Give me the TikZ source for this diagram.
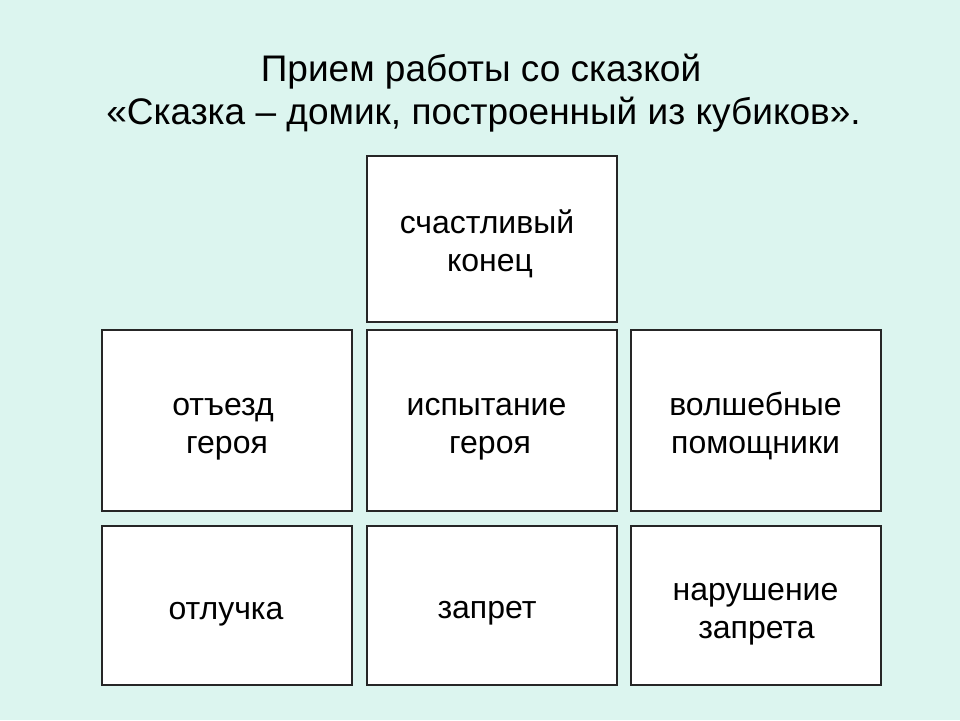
\documentclass[tikz,border=0pt]{standalone}
\usepackage{fontspec}
\setmainfont{Liberation Sans}
\definecolor{bgmint}{HTML}{DCF5EF}
\definecolor{boxline}{HTML}{262626}
\begin{document}
\begin{tikzpicture}[x=1pt,y=-1pt,
  cube/.style={draw=boxline,line width=1.3pt,fill=white},
  cubetext/.style={anchor=base,inner sep=0pt,font=\fontsize{32}{38}\selectfont,text=black},
  titletext/.style={anchor=base,inner sep=0pt,font=\fontsize{37}{44}\selectfont,text=black}]
\fill[bgmint] (0,0) rectangle (960,720);
\useasboundingbox (0,0) rectangle (960,720);
% title
\node[titletext] (title1) at (481,81) {Прием работы со сказкой};
\node[titletext] (title2) at (483.5,124) {«Сказка – домик, построенный из кубиков».};
% cubes
\path[cube] (367,156) rectangle (617,322);
\path[cube] (102,330) rectangle (352,511);
\path[cube] (367,330) rectangle (617,511);
\path[cube] (631,330) rectangle (881,511);
\path[cube] (102,526) rectangle (352,685);
\path[cube] (367,526) rectangle (617,685);
\path[cube] (631,526) rectangle (881,685);
% texts
\node[cubetext] (top1) at (487,233) {счастливый};
\node[cubetext] (top2) at (490,271) {конец};
\node[cubetext] (a1) at (223,415) {отъезд};
\node[cubetext] (a2) at (227,453) {героя};
\node[cubetext] (b1) at (486.5,415) {испытание};
\node[cubetext] (b2) at (490,453) {героя};
\node[cubetext] (c1) at (755.5,415) {волшебные};
\node[cubetext] (c2) at (755.5,453) {помощники};
\node[cubetext] (d1) at (226,619) {отлучка};
\node[cubetext] (e1) at (487,618) {запрет};
\node[cubetext] (f1) at (755.5,600) {нарушение};
\node[cubetext] (f2) at (756.5,638) {запрета};
\end{tikzpicture}
\end{document}
